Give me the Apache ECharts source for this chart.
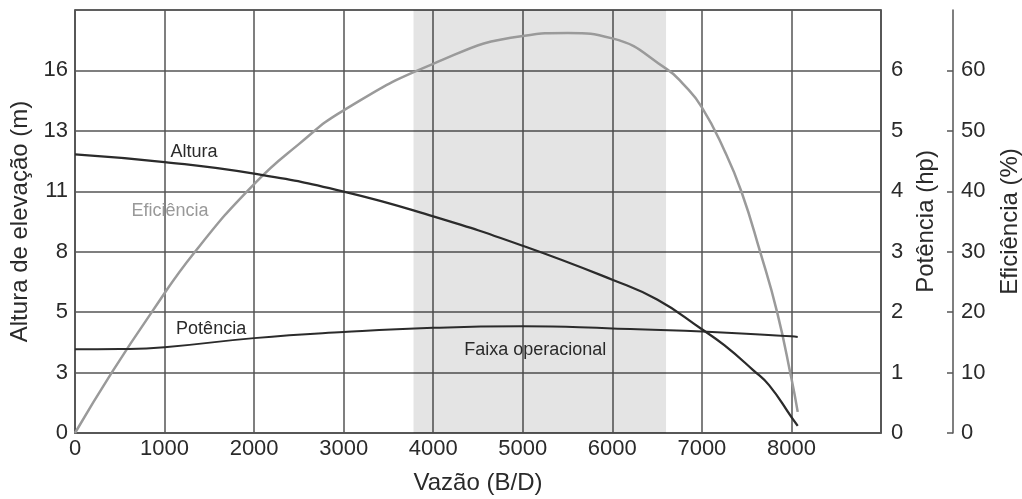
<!DOCTYPE html>
<html>
<head>
<meta charset="utf-8">
<script src="https://cdn.jsdelivr.net/npm/echarts@6/dist/echarts.min.js"></script>
<style>
html, body { margin: 0; padding: 0; background: #fff; }
#chart { width: 1022px; height: 499px; }
</style>
</head>
<body>
<div id="chart"></div>
<script>
// curva da bomba: vazão (B/D) x altura, potência e eficiência
const vazaoAltura = [0, 1000, 2000, 3000, 4000, 5000, 6000, 6500, 7000, 7250, 7575, 7750, 8000, 8070]
const altura = [12.22, 11.88, 11.37, 10.59, 9.5, 8.21, 6.72, 5.85, 4.55, 3.85, 2.75, 2.1, 0.7, 0.31]

const vazaoPotencia = [0, 500, 1000, 2000, 3000, 4000, 5000, 6000, 7000, 8000, 8070]
const potencia = [1.385, 1.39, 1.42, 1.57, 1.67, 1.74, 1.765, 1.73, 1.68, 1.6, 1.59]

const vazaoEficiencia = [0, 410, 857, 1340, 2000, 2500, 3000, 4000, 5000, 5500, 6000, 6600, 6800, 7000, 7250, 7440, 7650, 7840, 8000, 8070]
const eficiencia = [0, 10, 20, 30, 41.2, 47.8, 53.4, 61.1, 65.7, 66.2, 65.3, 60.3, 57.6, 53.9, 46.8, 40, 30, 20, 9, 3.5]

const faixaOperacional = [3780, 6600]

const font = 'Liberation Sans, Arial, sans-serif'
const gridColor = '#555'
const textColor = '#2a2a2a'

function pares (xs, ys) {
  return xs.map((x, i) => [x, ys[i]])
}

function rotulo (texto, coord, cor) {
  return {
    symbol: 'circle',
    symbolSize: 1,
    itemStyle: { color: 'transparent' },
    label: { show: true, position: 'inside', color: cor, fontSize: 18, fontFamily: font },
    data: [{ coord: coord, value: texto, label: { formatter: texto } }]
  }
}

const chart = echarts.init(document.getElementById('chart'))
const options = {
  animation: false,
  grid: {
    left: 75,
    right: 141,
    top: 10,
    bottom: 66,
    outerBoundsMode: 'none',
    containLabel: false,
    show: true,
    borderColor: gridColor,
    borderWidth: 1.5
  },
  xAxis: {
    type: 'value',
    min: 0,
    max: 9000,
    interval: 1000,
    name: 'Vazão (B/D)',
    nameLocation: 'middle',
    nameGap: 38,
    nameTextStyle: { fontSize: 24, fontFamily: font, color: textColor },
    axisLine: { show: true, lineStyle: { color: gridColor, width: 1.5 } },
    axisTick: { show: false },
    axisLabel: {
      fontSize: 22, fontFamily: font, color: textColor, margin: 5, showMaxLabel: false,
      formatter: v => String(v)
    },
    splitLine: { show: true, lineStyle: { color: gridColor, width: 1.5 } }
  },
  yAxis: [
    {
      type: 'value',
      position: 'left',
      min: 0,
      max: 18.55,
      interval: 2.65,
      name: 'Altura de elevação (m)',
      nameLocation: 'middle',
      nameRotate: 90,
      nameGap: 42,
      nameTextStyle: { fontSize: 24, fontFamily: font, color: textColor },
      axisLine: { show: true, lineStyle: { color: gridColor, width: 1.5 } },
      axisTick: { show: false },
      axisLabel: {
        fontSize: 22, fontFamily: font, color: textColor, margin: 7, showMaxLabel: false,
        formatter: v => String(Math.round(v))
      },
      splitLine: { show: true, lineStyle: { color: gridColor, width: 1.5 } }
    },
    {
      type: 'value',
      position: 'right',
      min: 0,
      max: 7,
      interval: 1,
      name: 'Potência (hp)',
      nameLocation: 'middle',
      nameRotate: 90,
      nameGap: 32,
      nameTextStyle: { fontSize: 24, fontFamily: font, color: textColor },
      axisLine: { show: true, lineStyle: { color: gridColor, width: 1.5 } },
      axisTick: { show: false },
      axisLabel: { fontSize: 22, fontFamily: font, color: textColor, margin: 10, showMaxLabel: false },
      splitLine: { show: false }
    },
    {
      type: 'value',
      position: 'right',
      offset: 72,
      min: 0,
      max: 70,
      interval: 10,
      name: 'Eficiência (%)',
      nameLocation: 'middle',
      nameRotate: 90,
      nameGap: 45,
      nameTextStyle: { fontSize: 24, fontFamily: font, color: textColor },
      axisLine: { show: true, lineStyle: { color: gridColor, width: 1.5 } },
      axisTick: { show: true, inside: true, length: 6, lineStyle: { color: gridColor, width: 1.5 } },
      axisLabel: { fontSize: 22, fontFamily: font, color: textColor, margin: 8, showMaxLabel: false },
      splitLine: { show: false }
    }
  ],
  series: [
    {
      name: 'Faixa',
      type: 'line',
      data: [],
      markArea: {
        silent: true,
        itemStyle: { color: 'rgba(0,0,0,0.105)' },
        data: [[{ xAxis: faixaOperacional[0] }, { xAxis: faixaOperacional[1] }]]
      }
    },
    {
      name: 'Eficiência',
      type: 'line',
      yAxisIndex: 2,
      smooth: 0.5,
      showSymbol: false,
      lineStyle: { color: '#9a9a9a', width: 2.5 },
      data: pares(vazaoEficiencia, eficiencia),
      markPoint: rotulo('Eficiência', [1060, 36.7], '#999')
    },
    {
      name: 'Altura',
      type: 'line',
      yAxisIndex: 0,
      smooth: 0.5,
      showSymbol: false,
      lineStyle: { color: '#2b2b2b', width: 2.3 },
      data: pares(vazaoAltura, altura),
      markPoint: rotulo('Altura', [1330, 12.3], textColor)
    },
    {
      name: 'Potência',
      type: 'line',
      yAxisIndex: 1,
      smooth: 0.5,
      showSymbol: false,
      lineStyle: { color: '#2b2b2b', width: 2 },
      data: pares(vazaoPotencia, potencia),
      markPoint: {
        symbol: 'circle',
        symbolSize: 1,
        itemStyle: { color: 'transparent' },
        label: { show: true, position: 'inside', color: textColor, fontSize: 18, fontFamily: font },
        data: [
          { coord: [1520, 1.715], value: 'Potência', label: { formatter: 'Potência' } },
          { coord: [5140, 1.37], value: 'Faixa operacional', label: { formatter: 'Faixa operacional' } }
        ]
      }
    }
  ]
}
chart.setOption(options)
</script>
</body>
</html>
